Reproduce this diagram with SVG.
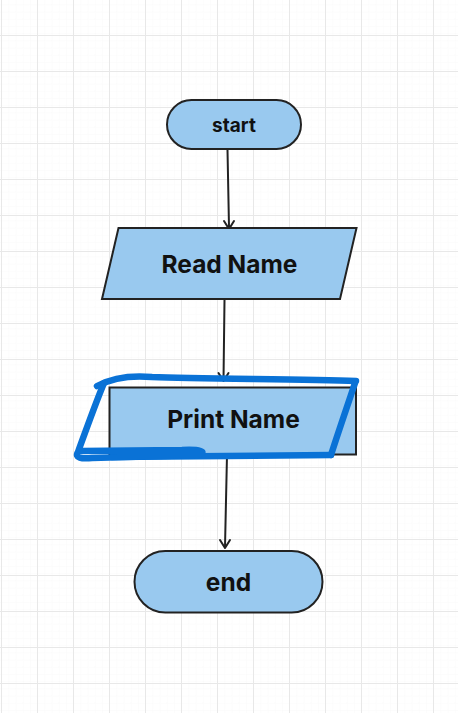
<svg xmlns="http://www.w3.org/2000/svg" width="458" height="713" viewBox="0 0 458 713">
  <defs>
    <pattern id="minor" width="7.2" height="7.2" patternUnits="userSpaceOnUse" x="1" y="-1">
      <path d="M7.2,0 V7.2 M0,7.2 H7.2" fill="none" stroke="#f4f4f4" stroke-width="0.6"/>
    </pattern>
    <pattern id="major" width="36" height="36" patternUnits="userSpaceOnUse" x="1" y="-1">
      <rect width="36" height="36" fill="url(#minor)"/>
      <path d="M0,0 V36 M0,0 H36" fill="none" stroke="#e8e8e8" stroke-width="2"/>
    </pattern>
    <style>
      .shape { fill: #99c9ef; stroke: #222; stroke-width: 2; }
      .label { font-family: Inter, "Liberation Sans", sans-serif; font-weight: 700; fill: #111; text-anchor: middle; dominant-baseline: central; }
      .edge { fill: none; stroke: #222; stroke-width: 2; stroke-linecap: round; stroke-linejoin: round; }
      .scribble { fill: none; stroke: #0a72d6; stroke-width: 6.5; stroke-linecap: round; stroke-linejoin: round; }
    </style>
  </defs>
  <rect width="458" height="713" fill="#ffffff"/>
  <rect width="458" height="713" fill="url(#major)"/>

  <g id="connectors">
    <path class="edge" d="M227.5,150 L229,227"/>
    <path class="edge" d="M224,221 L229,229 L234,221"/>
    <path class="edge" d="M224.5,300 L223.5,380"/>
    <path class="edge" d="M218.5,373 L223.5,381 L228.5,373"/>
    <path class="edge" d="M227,455 L225,547"/>
    <path class="edge" d="M220,540 L225,548 L230,540"/>
  </g>

  <g id="start">
    <rect class="shape" x="167" y="100" width="134" height="49" rx="24.5"/>
    <text class="label" x="234" y="125" font-size="19">start</text>
  </g>

  <g id="read-name">
    <polygon class="shape" points="118.5,228 356.5,228 340,299 102,299"/>
    <text class="label" x="229.5" y="264" font-size="24.5">Read Name</text>
  </g>

  <g id="print-name">
    <rect class="shape" x="109.5" y="387.5" width="246.5" height="67"/>
    <text class="label" x="233.5" y="419" font-size="24.5">Print Name</text>
    <path class="scribble" d="M97,386 C112,378 130,375 152,377 C200,379 300,379 356,381"/>
    <path class="scribble" d="M355,383 C346,410 338,433 331,455"/>
    <path class="scribble" d="M331,455 L112,457"/>
    <path class="scribble" d="M104,383 C96,402 86,430 78,452 C74,458 82,459 92,458 L198,455 C208,452 200,449 182,450 L82,451"/>
  </g>

  <g id="end">
    <rect class="shape" x="134.5" y="551" width="188" height="61.5" rx="30.75"/>
    <text class="label" x="228.5" y="582" font-size="24.5">end</text>
  </g>
</svg>
